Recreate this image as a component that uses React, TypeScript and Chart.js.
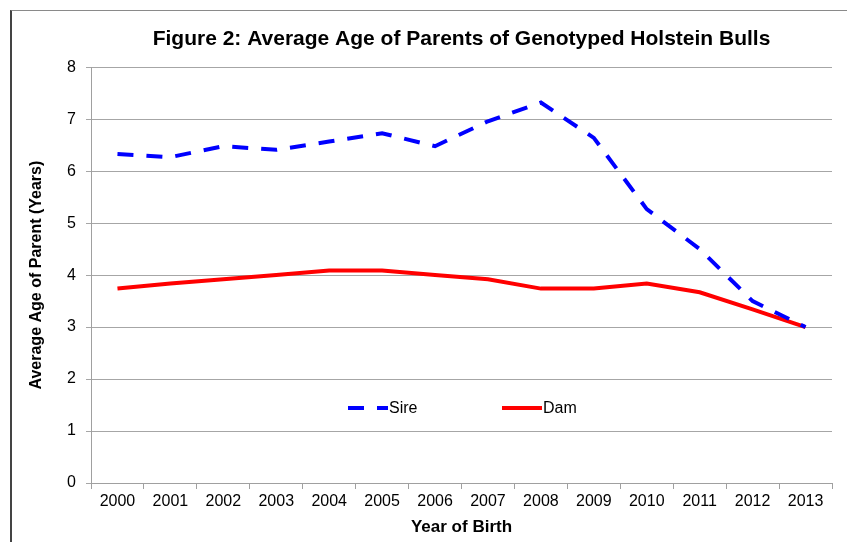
import React, { useEffect, useRef } from "react";
import { Chart, registerables } from "chart.js";

Chart.register(...registerables);

const years = ["2000", "2001", "2002", "2003", "2004", "2005", "2006", "2007", "2008", "2009", "2010", "2011", "2012", "2013"];
const sireAge = [6.33, 6.27, 6.48, 6.41, 6.57, 6.73, 6.48, 6.96, 7.32, 6.64, 5.27, 4.5, 3.5, 3.0];
const damAge = [3.74, 3.84, 3.92, 4.0, 4.09, 4.09, 4.0, 3.92, 3.74, 3.74, 3.84, 3.67, 3.34, 3.0];
const yTicks = [0, 1, 2, 3, 4, 5, 6, 7, 8];

const FONT = '"Liberation Sans", Arial, sans-serif';

const insideLegend = {
  id: "insideLegend",
  afterDraw(chart: any) {
    const { ctx, chartArea } = chart;
    const y = chartArea.bottom - 75;
    const starts = [chartArea.left + 257, chartArea.left + 411];
    ctx.save();
    chart.data.datasets.forEach((ds: any, i: number) => {
      const x0 = starts[i];
      ctx.beginPath();
      ctx.lineWidth = ds.borderWidth;
      ctx.strokeStyle = ds.borderColor;
      ctx.setLineDash(ds.borderDash || []);
      ctx.lineCap = "butt";
      ctx.moveTo(x0, y);
      ctx.lineTo(x0 + 40, y);
      ctx.stroke();
      ctx.setLineDash([]);
      ctx.fillStyle = "#000";
      ctx.font = `16px ${FONT}`;
      ctx.textBaseline = "middle";
      ctx.textAlign = "left";
      ctx.fillText(ds.label, x0 + 41, y + 1);
    });
    ctx.restore();
  },
};

export default function App() {
  const ref = useRef<HTMLCanvasElement>(null);
  useEffect(() => {
    if (!ref.current) return;
    const chart = new Chart(ref.current, {
      type: "line",
      data: {
        labels: years,
        datasets: [
          {
            label: "Sire",
            data: sireAge,
            borderColor: "#0000ff",
            backgroundColor: "#0000ff",
            borderWidth: 4,
            borderDash: [16, 13],
            pointRadius: 0,
            tension: 0,
          },
          {
            label: "Dam",
            data: damAge,
            borderColor: "#ff0000",
            backgroundColor: "#ff0000",
            borderWidth: 4,
            pointRadius: 0,
            tension: 0,
          },
        ],
      },
      options: {
        animation: false,
        responsive: true,
        maintainAspectRatio: false,
        layout: { padding: { left: 0, right: 15, top: 0, bottom: 0 } },
        plugins: {
          legend: { display: false },
          tooltip: { enabled: false },
          title: {
            display: true,
            fullSize: false,
            text: "Figure 2: Average Age of Parents of Genotyped Holstein Bulls",
            color: "#000",
            font: { family: FONT, size: 21, weight: "bold" },
            padding: { top: 27, bottom: 15 },
          },
        },
        scales: {
          x: {
            type: "category",
            offset: true,
            grid: {
              display: true,
              offset: true,
              drawOnChartArea: false,
              drawTicks: true,
              tickLength: 6,
              color: "#a0a0a0",
            },
            border: { display: true, color: "#a0a0a0" },
            ticks: { color: "#000", font: { family: FONT, size: 16 }, padding: 3, maxRotation: 0, autoSkip: false },
            title: {
              display: true,
              text: "Year of Birth",
              color: "#000",
              font: { family: FONT, size: 17, weight: "bold" },
              padding: { top: 0, bottom: 4 },
            },
            afterFit: (scale: any) => {
              scale.height = 59;
            },
          },
          y: {
            min: 0,
            max: 8,
            afterBuildTicks: (scale: any) => {
              scale.ticks = yTicks.map((v) => ({ value: v }));
            },
            grid: { color: "#a6a6a6", tickLength: 5, drawTicks: true },
            border: { display: true, color: "#a0a0a0" },
            ticks: { color: "#000", font: { family: FONT, size: 16 }, padding: 10 },
            title: {
              display: true,
              text: "Average Age of Parent (Years)",
              color: "#000",
              font: { family: FONT, size: 16, weight: "bold" },
              padding: { top: 27, bottom: 0 },
            },
            afterFit: (scale: any) => {
              scale.width = 91;
            },
          },
        },
      },
      plugins: [insideLegend],
    });
    return () => chart.destroy();
  }, []);

  return (
    <div style={{ position: "absolute", left: 0, top: 0, width: 847, height: 542, background: "#fff" }}>
      <div
        style={{
          position: "absolute",
          left: 10,
          top: 10,
          right: -5,
          bottom: -5,
          borderLeft: "2px solid #444",
          borderTop: "1px solid #8a8a8a",
        }}
      />
      <div style={{ position: "absolute", left: 0, top: 0, width: 847, height: 542 }}>
        <canvas ref={ref} />
      </div>
    </div>
  );
}
